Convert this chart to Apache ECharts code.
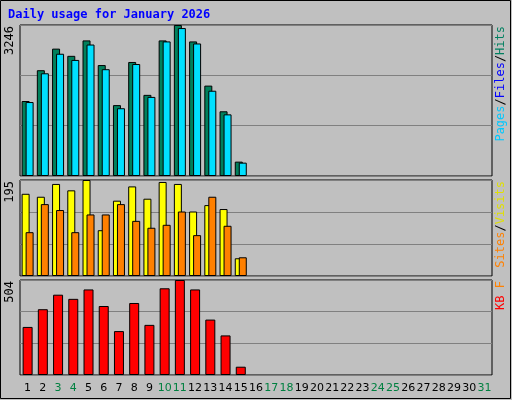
<!DOCTYPE html><html><head><meta charset="utf-8">
<script src="https://cdn.jsdelivr.net/npm/echarts@6/dist/echarts.min.js"></script>
<style>html,body{margin:0;padding:0;background:#c0c0c0}#c{width:512px;height:400px}</style></head><body><div id="c"></div>
<script>
const days=[];for(let i=1;i<=31;i++)days.push(String(i));
const weekendDays=['3','4','10','11','17','18','24','25','31'];
const hits=[1612,2274,2738,2583,2915,2385,1524,2451,1744,2915,3246,2893,1943,1391,309];
const files=[1590,2208,2628,2495,2826,2296,1457,2407,1700,2893,3180,2849,1833,1325,287];
const visits=[167,161,187,174,195,93,153,182,157,191,187,131,144,136,36];
const sites=[89,146,134,89,125,125,146,112,98,104,131,83,161,102,38];
const kbytes=[255,349,426,404,454,366,233,382,266,460,504,454,294,210,44];
const maxHits=3246,maxVisits=195,maxKB=504;
const panels=[{top:25,h:151},{top:180,h:96},{top:280,h:95}];
const c=echarts.init(document.getElementById('c'));
const grids=panels.map(p=>({left:20,right:20,top:p.top,height:p.h,show:true,backgroundColor:'#c0c0c0',borderColor:'#000',borderWidth:1}));
const xAxes=[0,1,2].map(i=>({type:'category',gridIndex:i,data:days,axisLine:{show:false},axisTick:{show:false},
 axisLabel:{show:i===2,interval:0,margin:8,fontFamily:'DejaVu Sans',fontSize:11,color:v=>weekendDays.includes(v)?'#008040':'#000'}}));
const yAxes=[maxHits,maxVisits,maxKB].map((m,i)=>({type:'value',gridIndex:i,min:0,max:m,interval:m/3,axisLabel:{show:false},axisLine:{show:false},axisTick:{show:false},splitLine:{lineStyle:{color:'#808080',width:1}}}));
const bs={borderColor:'#000',borderWidth:1};
function bar(d,i,color,gap){return {type:'bar',xAxisIndex:i,yAxisIndex:i,data:d,barWidth:8,barGap:gap,itemStyle:Object.assign({color},bs),animation:false};}
const series=[bar(hits,0,'#00805c','-50%'),bar(files,0,'#00e0ff','-50%'),
 bar(visits,1,'#ffff00','-50%'),bar(sites,1,'#ff8000','-50%'),
 Object.assign(bar(kbytes,2,'#ff0000','0%'),{barWidth:10})];
function vt(x,y,rich,text){return {type:'text',x,y,rotation:Math.PI/2,style:{text,rich,font:'12px DejaVu Sans Mono',textAlign:'right',textVerticalAlign:'middle'}};}
const mono='DejaVu Sans Mono';
c.setOption({backgroundColor:'#c0c0c0',grid:grids,xAxis:xAxes,yAxis:yAxes,series,
 graphic:[
 {type:'rect',shape:{x:0.5,y:0.5,width:510,height:398},style:{fill:'none',stroke:'#000',lineWidth:1}},
 {type:'text',x:8,y:9,style:{text:'Daily usage for January 2026',font:'bold 12px DejaVu Sans Mono',fill:'#0000ff'}},
 {type:'text',x:10,y:26,rotation:Math.PI/2,style:{text:'3246',font:'12px '+mono,fill:'#000',textAlign:'right',textVerticalAlign:'middle'}},
 {type:'text',x:10,y:181,rotation:Math.PI/2,style:{text:'195',font:'12px '+mono,fill:'#000',textAlign:'right',textVerticalAlign:'middle'}},
 {type:'text',x:10,y:281,rotation:Math.PI/2,style:{text:'504',font:'12px '+mono,fill:'#000',textAlign:'right',textVerticalAlign:'middle'}},
 {type:'text',x:501,y:26,rotation:Math.PI/2,style:{text:'{a|Pages}{k|/}{b|Files}{k|/}{c|Hits}',textAlign:'right',textVerticalAlign:'middle',rich:{a:{fill:'#00c8ff',font:'12px '+mono},b:{fill:'#0000ff',font:'12px '+mono},c:{fill:'#008060',font:'12px '+mono},k:{fill:'#000',font:'12px '+mono}}}},
 {type:'text',x:501,y:181,rotation:Math.PI/2,style:{text:'{a|Sites}{k|/}{b|Visits}',textAlign:'right',textVerticalAlign:'middle',rich:{a:{fill:'#ff8000',font:'12px '+mono},b:{fill:'#e0e000',font:'12px '+mono},k:{fill:'#000',font:'12px '+mono}}}},
 {type:'text',x:501,y:281,rotation:Math.PI/2,style:{text:'{a|KB}{k| }{b|F}',textAlign:'right',textVerticalAlign:'middle',rich:{a:{fill:'#ff0000',font:'12px '+mono},b:{fill:'#ff8000',font:'12px '+mono},k:{fill:'#000',font:'12px '+mono}}}}
 ]});
</script></body></html>
